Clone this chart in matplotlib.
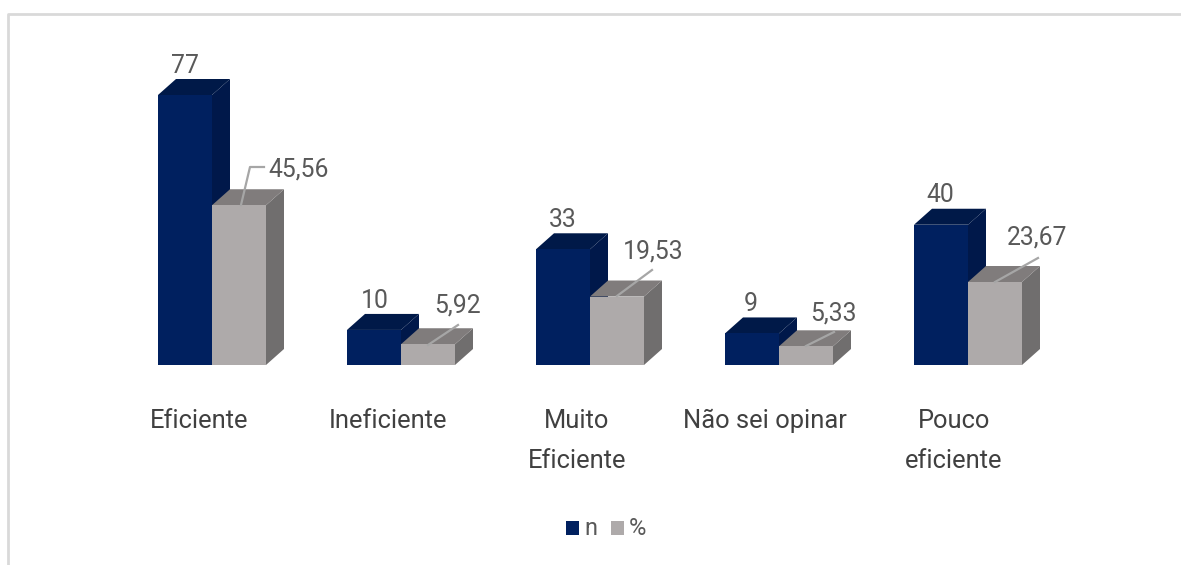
import matplotlib
matplotlib.use("Agg")
import matplotlib.pyplot as plt
from matplotlib.patches import Polygon, Rectangle

plt.rcParams["font.family"] = ["Roboto", "DejaVu Sans"]

categories = ["Eficiente", "Ineficiente", "Muito\nEficiente", "Não sei opinar", "Pouco\neficiente"]
n_values = [77, 10, 33, 9, 40]
pct_values = [45.56, 5.92, 19.53, 5.33, 23.67]
pct_labels = ["45,56", "5,92", "19,53", "5,33", "23,67"]
cat_x = [199, 388, 577, 765, 954]

W, H = 1181, 565
NAVY = ("#00205f", "#001948", "#00184a")
GREY = ("#aeaaaa", "#807c7c", "#706e6e")
TEXT = "#595959"

fig = plt.figure(figsize=(W / 100, H / 100), dpi=100)

# pixel-space overlay, frame and labels go here
bg = fig.add_axes([0, 0, 1, 1])
bg.set_xlim(0, W)
bg.set_ylim(H, 0)
bg.axis("off")
bg.plot([8, 8, W], [H, 14, 14], color="#d9d9d9", lw=2, solid_capstyle="butt")

# plot axes: one category = 189 px, y 0 at 365 px, 77 at 95 px
ax = fig.add_axes([117.5 / W, (H - 365) / H, 945 / W, 270 / H])
ax.set_xlim(-0.5, 4.5)
ax.set_ylim(0, 77)
ax.axis("off")
ax.patch.set_alpha(0)

bar_w = 54 / 189
dx = 18 / 189
dy = 16 * 77 / 270


def bar3d(x0, h, cols):
    x1 = x0 + bar_w
    ax.add_patch(Polygon([(x1, 0), (x1 + dx, dy), (x1 + dx, h + dy), (x1, h)], fc=cols[2], ec="none", clip_on=False))
    ax.add_patch(Polygon([(x0, h), (x0 + dx, h + dy), (x1 + dx, h + dy), (x1, h)], fc=cols[1], ec="none", clip_on=False))
    ax.add_patch(Rectangle((x0, 0), bar_w, h, fc=cols[0], ec="none", clip_on=False))


for i in range(len(categories)):
    bar3d(i - bar_w, n_values[i], NAVY)
    bar3d(i, pct_values[i], GREY)

# label anchors in pixels: navy labels (x, y), grey labels with leader polyline
n_pos = [(185, 73), (375, 308), (563, 227), (751, 311), (940, 202)]
pct_pos = [(299, 176), (458, 313), (653, 259), (833, 320), (1037, 245)]
leaders = [
    [(241, 205), (250, 167), (264, 167)],
    [(428, 345), (458, 325)],
    [(617, 296), (652, 270)],
    [(806, 346), (834, 332)],
    [(995, 282), (1038, 258)],
]
for i in range(len(categories)):
    bg.text(*n_pos[i], str(n_values[i]), ha="center", va="baseline", fontsize=17.8, color=TEXT)
    bg.text(*pct_pos[i], pct_labels[i], ha="center", va="baseline", fontsize=17.8, color=TEXT)
    bg.plot(*zip(*leaders[i]), color="#a6a6a6", lw=1.6, zorder=5)
    for j, line in enumerate(categories[i].split("\n")):
        bg.text(cat_x[i], 428 + 40 * j, line, ha="center", va="baseline", fontsize=18.4, color="#404040")
bg.set_zorder(3)
bg.patch.set_alpha(0)

# legend
bg.add_patch(Rectangle((566, 521), 13, 14, fc=NAVY[0], ec="none"))
bg.add_patch(Rectangle((611, 521), 13, 14, fc=GREY[0], ec="none"))
bg.text(591, 535, "n", ha="center", va="baseline", fontsize=17, color=TEXT)
bg.text(637, 535, "%", ha="center", va="baseline", fontsize=17, color=TEXT)

fig.savefig("out.png", dpi=100)
